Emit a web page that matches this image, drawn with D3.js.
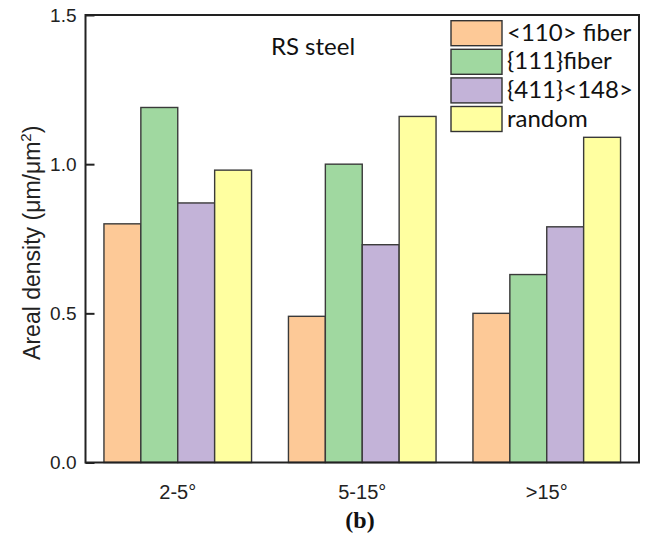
<!DOCTYPE html>
<html>
<head>
<meta charset="utf-8">
<script src="https://cdn.jsdelivr.net/npm/d3@7"></script>
<style>
  html, body { margin: 0; padding: 0; background: #fff; }
  svg { display: block; }
</style>
</head>
<body>
<svg id="chart" width="657" height="538"></svg>
<script>
// ---- data ----
const categories = ["2-5°", "5-15°", ">15°"];
const seriesNames = ["<110> fiber", "{111}fiber", "{411}<148>", "random"];
const fiber110 = [0.80, 0.49, 0.50];
const fiber111 = [1.19, 1.00, 0.63];
const tex411 = [0.87, 0.73, 0.79];
const randomTex = [0.98, 1.16, 1.09];
const yTicks = [0.0, 0.5, 1.0, 1.5];
const colors = ["#FDC997", "#A0D8A0", "#C3B3D8", "#FFFFA0"];

const seriesValues = [fiber110, fiber111, tex411, randomTex];

// ---- layout ----
const W = 657, H = 538;
const margin = { left: 85.5, top: 15, right: 18, bottom: 75.5 };
const pw = W - margin.left - margin.right;
const ph = H - margin.top - margin.bottom;

const svg = d3.select("#chart");
const g = svg.append("g").attr("transform", `translate(${margin.left},${margin.top})`);

const x0 = d3.scaleBand().domain(categories).range([0, pw]).paddingInner(0.2).paddingOuter(0.1);
const x1 = d3.scaleBand().domain(seriesNames).range([0, x0.bandwidth()]).padding(0);
const y = d3.scaleLinear().domain([0, 1.5]).range([ph, 0]);

// bars
const groups = g.selectAll("g.grp").data(categories).enter().append("g")
  .attr("class", "grp")
  .attr("transform", d => `translate(${x0(d)},0)`);

groups.selectAll("rect").data((c, ci) => seriesNames.map((s, si) => ({ s, si, v: seriesValues[si][ci] })))
  .enter().append("rect")
  .attr("x", d => x1(d.s))
  .attr("y", d => y(d.v))
  .attr("width", x1.bandwidth())
  .attr("height", d => ph - y(d.v))
  .attr("fill", d => colors[d.si])
  .attr("stroke", "#3a3a3a")
  .attr("stroke-width", 1.4);

// frame
g.append("rect").attr("x", 0).attr("y", 0).attr("width", pw).attr("height", ph)
  .attr("fill", "none").attr("stroke", "#222").attr("stroke-width", 2);

// y axis
const yAxis = d3.axisLeft(y).tickValues(yTicks).tickFormat(d3.format(".1f")).tickSizeInner(-9).tickSizeOuter(0).tickPadding(9);
const ya = g.append("g").call(yAxis);
ya.select(".domain").remove();
ya.selectAll(".tick line").attr("stroke", "#222").attr("stroke-width", 2);
ya.selectAll(".tick text").attr("font-family", "'Liberation Sans', Arial, sans-serif").attr("font-size", 19).attr("fill", "#222");

// x axis labels
const xAxis = d3.axisBottom(x0).tickSize(0).tickPadding(22);
const xa = g.append("g").attr("transform", `translate(0,${ph})`).call(xAxis);
xa.select(".domain").remove();
xa.selectAll(".tick text").attr("font-family", "'Liberation Sans', Arial, sans-serif").attr("font-size", 20).attr("fill", "#222");

// y label
const yl = svg.append("text")
  .attr("transform", `translate(40,${margin.top + ph / 2 + 4}) rotate(-90)`)
  .attr("text-anchor", "middle")
  .attr("font-family", "'Liberation Sans', Arial, sans-serif")
  .attr("font-size", 23)
  .attr("fill", "#222");
yl.append("tspan").text("Areal density (μm/μm");
yl.append("tspan").attr("font-size", 15).attr("dy", -9).text("2");
yl.append("tspan").attr("dy", 9).text(")");

// title
svg.append("text").attr("x", 313).attr("y", 55).attr("text-anchor", "middle")
  .attr("font-family", "Lato, 'Open Sans', sans-serif").attr("font-size", 24).attr("fill", "#111")
  .text("RS steel");

// legend
const leg = svg.append("g");
const rowStep = 28.6;
seriesNames.forEach((s, i) => {
  const yy = 20.7 + i * rowStep;
  leg.append("rect").attr("x", 451).attr("y", yy).attr("width", 51).attr("height", 25)
    .attr("fill", colors[i]).attr("stroke", "#333").attr("stroke-width", 1.4);
  leg.append("text").attr("x", 507).attr("y", yy + 20)
    .attr("font-family", "Lato, 'Open Sans', sans-serif").attr("font-size", 24).attr("fill", "#111")
    .text(s);
});

// caption
svg.append("text").attr("x", 360).attr("y", 528).attr("text-anchor", "middle")
  .attr("font-family", "'Liberation Serif', 'Times New Roman', serif").attr("font-weight", "bold")
  .attr("font-size", 24).attr("fill", "#111")
  .text("(b)");
</script>
</body>
</html>
